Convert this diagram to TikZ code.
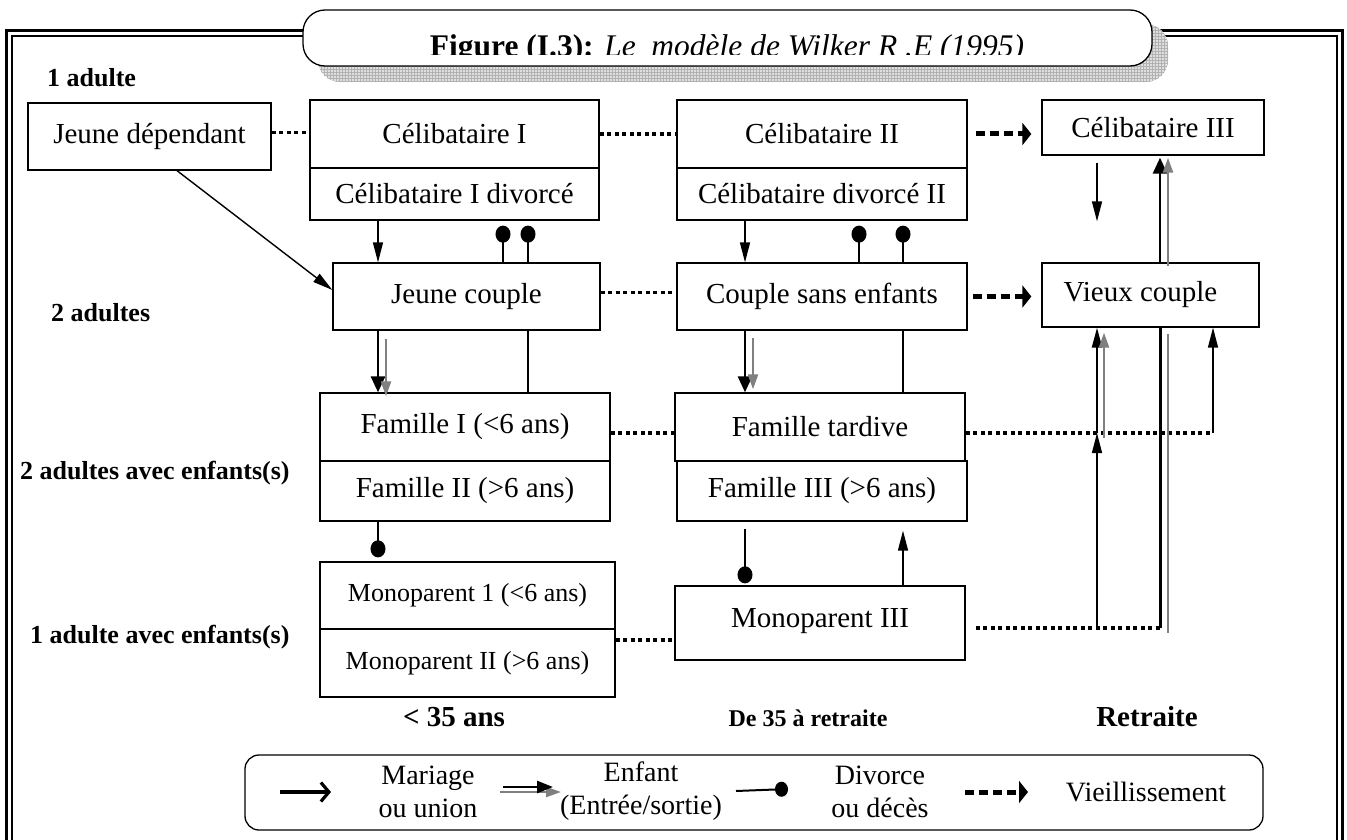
\documentclass[tikz,border=0pt]{standalone}
\usepackage{fontspec}
\setmainfont{Liberation Serif}
\usetikzlibrary{arrows.meta,patterns}

\tikzset{
  hbox/.style={draw, line width=1.3pt, fill=white, inner sep=0pt,
    font=\fontsize{29}{34}\selectfont},
  rowlabel/.style={anchor=west, inner sep=0pt, font=\bfseries\fontsize{26}{30}\selectfont},
  collabel/.style={inner sep=0pt, font=\bfseries\fontsize{29}{34}\selectfont},
  legtext/.style={inner sep=0pt, align=center, font=\fontsize{28}{33}\selectfont},
  dotlink/.style={line width=3.5pt, dash pattern=on 4pt off 3.5pt},
  aging/.style={line width=5pt, dash pattern=on 9pt off 5pt,
    -{Triangle[length=9pt,width=22pt]}},
  marr/.style={line width=1.4pt, -{Triangle[length=20pt,width=10pt]}},
  marrthick/.style={line width=2.8pt, -{Triangle[length=16pt,width=14pt]}},
  kid/.style={draw=gray, line width=2.4pt, -{Triangle[length=15pt,width=10pt]}},
  divline/.style={line width=1.4pt, -{Ellipse[length=17pt,width=15pt]}},
  solidline/.style={line width=1.4pt},
}

\begin{document}
\begin{tikzpicture}[x=1pt,y=-1pt]
\useasboundingbox (0,0) rectangle (1347,840);
\clip (0,0) rectangle (1347,840);

% double outer frame
\draw[line width=3pt] (6,31) rectangle (1342,870);
\draw[line width=1.4pt] (12,36) rectangle (1337,870);

% title banner with hatched shadow
\fill[gray!25, rounded corners=22pt] (318,24) rectangle (1168,82);
\fill[pattern=grid, pattern color=gray!60, rounded corners=22pt] (318,24) rectangle (1168,82);
\draw[line width=1.3pt, fill=white, rounded corners=22pt] (303,10) rectangle (1152,66);
\begin{scope}
  \clip (303,10) rectangle (1152,55);
  \node[anchor=base, inner sep=0pt, font=\fontsize{31.5}{36}\selectfont] (title) at (727,57)
    {\textbf{Figure (I.3):} \textit{Le\ \ modèle de Wilker R .E (1995)}};
\end{scope}

% row labels
\node[rowlabel] (r1) at (47,78) {1 adulte};
\node[rowlabel] (r2) at (51,313) {2 adultes};
\node[rowlabel] (r3) at (20,473) {2 adultes avec enfants(s)};
\node[rowlabel] (r4) at (30,637) {1 adulte avec enfants(s)};

% household states
\node[hbox, minimum width=243pt, minimum height=67pt] (jd) at (149.5,136.5) {Jeune dépendant};
\node[hbox, minimum width=289pt, minimum height=68pt] (c1a) at (454.5,134) {Célibataire I};
\node[hbox, minimum width=289pt, minimum height=52pt] (c1b) at (454.5,194) {Célibataire I divorcé};
\node[hbox, minimum width=290pt, minimum height=68pt] (c2a) at (822,134) {Célibataire II};
\node[hbox, minimum width=290pt, minimum height=52pt] (c2b) at (822,194) {Célibataire divorcé II};
\node[hbox, minimum width=222pt, minimum height=55pt] (c3) at (1153,127.5) {Célibataire III};
\node[hbox, minimum width=267pt, minimum height=67pt] (jc) at (466.5,296.5) {Jeune couple};
\node[hbox, minimum width=290pt, minimum height=67pt] (cse) at (822,296.5) {Couple sans enfants};
\node[hbox, minimum width=217pt, minimum height=64pt] (vc) at (1150.5,295) {Vieux couple\hspace*{20pt}};
\node[hbox, minimum width=290pt, minimum height=68pt] (f1) at (465,427) {Famille I (<6 ans)};
\node[hbox, minimum width=290pt, minimum height=60pt] (f2) at (465,491) {Famille II (>6 ans)};
\node[hbox, minimum width=290pt, minimum height=68pt] (ft) at (820,427) {Famille tardive};
\node[hbox, minimum width=290pt, minimum height=60pt] (f3) at (822,491) {Famille III (>6 ans)};
\node[hbox, minimum width=295pt, minimum height=67pt, font=\fontsize{26}{30}\selectfont] (m1) at (467.5,595.5) {\raisebox{7pt}{Monoparent 1 (<6 ans)}};
\node[hbox, minimum width=295pt, minimum height=68pt, font=\fontsize{26}{30}\selectfont] (m2) at (467.5,663) {Monoparent II (>6 ans)};
\node[hbox, minimum width=290pt, minimum height=74pt] (m3) at (820,623) {\raisebox{10pt}{Monoparent III}};

% column labels
\node[collabel] (age1) at (454,717) {< 35 ans};
\node[collabel, font=\bfseries\fontsize{24}{28}\selectfont] (age2) at (808,718) {De 35 à retraite};
\node[collabel] (age3) at (1147,717) {Retraite};

% guide positions for vertical connectors
\coordinate (xa) at (378,0);
\coordinate (xag) at (386,0);
\coordinate (xd1) at (503,0);
\coordinate (xd2) at (528,0);
\coordinate (xb) at (745,0);
\coordinate (xbg) at (753,0);
\coordinate (xe1) at (859,0);
\coordinate (xe2) at (903,0);
\coordinate (xl) at (1097,0);
\coordinate (xlg) at (1104,0);
\coordinate (xt) at (1160,0);
\coordinate (xtg) at (1168,0);
\coordinate (ymid) at (0,433);
\coordinate (ymono) at (0,640);
\coordinate (ybot) at (0,628);
\coordinate (jr) at (1213,433);
\coordinate (gbot) at (1168,633);
\coordinate (gmid) at (1104,438);

% continuity (dotted)
\draw[dotlink] ([yshift=4pt]jd.east) -- ([yshift=4pt]jd.east -| c1a.west);
\draw[dotlink] (c1a.east) -- (c2a.west);
\draw[dotlink] ([yshift=4pt]jc.east) -- ([yshift=4pt]jc.east -| cse.west);
\draw[dotlink] (f1.east |- ymid) -- (ft.west |- ymid);
\draw[dotlink] (m2.east |- ymono) -- (m3.west |- ymono);
\draw[dotlink] (ft.east |- ymid) -- (jr);
\draw[dotlink] ([xshift=10pt]m3.east |- ybot) -- (xt |- ybot);

% ageing (dashed)
\draw[aging] ([xshift=8pt]c2a.east) -- ([xshift=-10pt]c2a.east -| c3.west);
\draw[aging] ([xshift=5pt]cse.east) -- ([xshift=-10pt]cse.east -| vc.west);

% marriage / union
\draw[marr] ([xshift=27.5pt]jd.south) -- ([yshift=6.5pt]jc.west);
\draw[marr] (c1b.south -| xa) -- (jc.north -| xa);
\draw[marr] (c2b.south -| xb) -- (cse.north -| xb);

% divorce back to single
\draw[divline] (jc.north -| xd1) -- ([yshift=-5pt]c1b.south -| xd1);
\draw[divline] (jc.north -| xd2) -- ([yshift=-5pt]c1b.south -| xd2);
\draw[divline] (cse.north -| xe1) -- ([yshift=-5pt]c2b.south -| xe1);
\draw[divline] (cse.north -| xe2) -- ([yshift=-5pt]c2b.south -| xe2);

% children
\draw[marrthick] (jc.south -| xa) -- (f1.north -| xa);
\draw[kid] ([yshift=-8pt]jc.south -| xag) -- ([yshift=-4pt]f1.north -| xag);
\draw[solidline] (jc.south -| xd2) -- (f1.north -| xd2);
\draw[marrthick] (cse.south -| xb) -- (ft.north -| xb);
\draw[kid] ([yshift=-7pt]cse.south -| xbg) -- ([yshift=3pt]ft.north -| xbg);
\draw[solidline, line width=2pt] (cse.south -| xe2) -- (ft.north -| xe2);

% single parents
\draw[divline] (f2.south -| xa) -- ([yshift=4pt]m1.north -| xa);
\draw[divline] ([yshift=-7pt]f3.south -| xb) -- ([yshift=2pt]m3.north -| xb);
\draw[marr] (m3.north -| xe2) -- ([yshift=-9pt]f3.south -| xe2);

% retirement column
\draw[marr] ([yshift=-7pt]c3.south -| xl) -- ([yshift=41pt]vc.north -| xl);
\draw[marrthick] (vc.north -| xt) -- ([yshift=-2pt]c3.south -| xt);
\draw[kid] ([yshift=-4pt]vc.north -| xtg) -- ([yshift=-2pt]c3.south -| xtg);
\draw[line width=3pt] (vc.south -| xt) -- (xt |- ybot);
\draw[draw=gray, line width=2.4pt] ([yshift=-6pt]vc.south -| xtg) -- (gbot);
\draw[marr, line width=2.2pt] (xl |- ymid) -- (vc.south -| xl);
\draw[kid] (gmid) -- ([yshift=-5pt]vc.south -| xlg);
\draw[marr] (xl |- ybot) -- (xl |- ymid);
\draw[marr] (jr) -- (vc.south -| jr);

% legend
\node[draw, line width=1.3pt, rounded corners=14pt, minimum width=1018pt,
      minimum height=75pt, inner sep=0pt] (legend) at (754,792.5) {};
\coordinate (l1a) at (280,792);
\coordinate (l1b) at (331,792);
\draw[line width=3.2pt, -{Straight Barb[length=8pt,width=19pt,line width=3.2pt]}] (l1a) -- (l1b);
\node[legtext] (lmar) at (428,791.5) {Mariage\\ou union};
\coordinate (l2a) at (503,787);
\coordinate (l2b) at (553,787);
\coordinate (l2c) at (500,792);
\coordinate (l2d) at (561,792);
\draw[kid] (l2c) -- (l2d);
\draw[line width=2.6pt, -{Triangle[length=16pt,width=12pt]}] (l2a) -- (l2b);
\node[legtext] (lenf) at (641,791.5) {Enfant\\(Entrée/sortie)};
\coordinate (l3a) at (736,791);
\coordinate (l3b) at (788,789);
\draw[line width=2pt, -{Ellipse[length=13pt,width=15pt]}] (l3a) -- (l3b);
\node[legtext] (ldiv) at (880,791.5) {Divorce\\ou décès};
\coordinate (l4a) at (965,792);
\coordinate (l4b) at (1028,792);
\draw[aging] (l4a) -- (l4b);
\node[legtext] (lvie) at (1146,792) {Vieillissement};
\end{tikzpicture}
\end{document}
